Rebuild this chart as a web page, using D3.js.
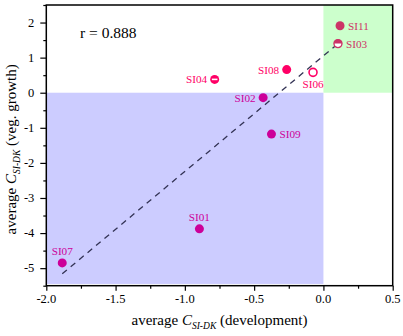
<!DOCTYPE html>
<html><head><meta charset="utf-8">
<script src="https://cdn.jsdelivr.net/npm/d3@7"></script>
<style>html,body{margin:0;padding:0;background:#fff;}svg{display:block;font-family:"Liberation Serif","Times New Roman",serif;}</style>
</head><body>
<svg id="c" width="403" height="336"></svg>
<script>
const sites = ["SI11","SI03","SI08","SI06","SI04","SI02","SI09","SI01","SI07"];
const xDev  = [0.12, 0.105, -0.265, -0.075, -0.785, -0.435, -0.375, -0.895, -1.885];
const yVeg  = [1.91, 1.40, 0.66, 0.58, 0.38, -0.14, -1.18, -3.88, -4.85];
const groups = ["g1","g1","g2","g2","g2","g3","g3","g3","g3"];
const symbols = ["full","halfUp","full","open","band","full","full","full","full"];
const labelSide = ["right","right","left","below","left","left","right","above","above"];
const fitX = [-1.885, 0.10];
const fitY = [-5.16, 1.38];
const xTicks = [-2.0,-1.5,-1.0,-0.5,0.0,0.5];
const xTickLabels = ["-2.0","-1.5","-1.0","-0.5","0.0","0.5"];
const yTicks = [-5,-4,-3,-2,-1,0,1,2];
const yTickLabels = ["-5","-4","-3","-2","-1","0","1","2"];
const rText = "r = 0.888";

const W=403,H=336, m={l:46.3,r:10.3,t:5,b:50.3};
const svg=d3.select("#c");
const x=d3.scaleLinear().domain([-2,0.5]).range([m.l,W-m.r]);
const y=d3.scaleLinear().domain([-5.5,2.5]).range([H-m.b,m.t]);
const color=d3.scaleOrdinal().domain(["g1","g2","g3"]).range(["#cc3366","#ff0066","#cc0099"]);

// shaded regions
svg.append("rect").attr("x",x(-2)).attr("y",y(0)).attr("width",x(0)-x(-2)).attr("height",y(-5.45)-y(0)).attr("fill","#ccccff");
svg.append("rect").attr("x",x(0)).attr("y",y(2.5)).attr("width",x(0.5)-x(0)).attr("height",y(0)-y(2.5)).attr("fill","#ccffcc");

// regression line
svg.append("line").attr("x1",x(fitX[0])).attr("y1",y(fitY[0])).attr("x2",x(fitX[1])).attr("y2",y(fitY[1]))
  .attr("stroke","#333355").attr("stroke-width",1.3).attr("stroke-dasharray","6,5");

// axes
const gx=svg.append("g").attr("transform",`translate(0,${H-m.b})`);
gx.call(d3.axisBottom(x).tickValues(d3.range(-2,0.51,0.25)).tickSize(3).tickFormat(""));
gx.call(g=>g.selectAll(".tick").filter(d=>Math.abs(d*2-Math.round(d*2))<1e-6).select("line").attr("y2",5));
gx.selectAll(".domain").remove();
const gx2=svg.append("g");
xTicks.forEach((v,i)=>{gx2.append("text").attr("x",x(v)).attr("y",H-m.b+17.5).attr("text-anchor","middle").attr("font-size",12.5).text(xTickLabels[i]);});

const gy=svg.append("g").attr("transform",`translate(${m.l},0)`);
gy.call(d3.axisLeft(y).tickValues(d3.range(-5.5,2.51,0.5)).tickSize(3).tickFormat(""));
gy.call(g=>g.selectAll(".tick").filter(d=>Math.abs(d-Math.round(d))<1e-6).select("line").attr("x2",-6));
gy.selectAll(".domain").remove();
yTicks.forEach((v,i)=>{svg.append("text").attr("x",m.l-12).attr("y",y(v)+4.3).attr("text-anchor","end").attr("font-size",12.5).text(yTickLabels[i]);});
svg.selectAll(".tick line").attr("stroke","#000").attr("stroke-width",1.2);

// frame
svg.append("rect").attr("x",m.l).attr("y",m.t).attr("width",W-m.l-m.r).attr("height",H-m.t-m.b)
  .attr("fill","none").attr("stroke","#000").attr("stroke-width",1.5);

// points
const r=4;
sites.forEach((s,i)=>{
  const cx=x(xDev[i]), cy=y(yVeg[i]), c=color(groups[i]);
  const sym=symbols[i];
  if(sym==="full"){
    svg.append("circle").attr("cx",cx).attr("cy",cy).attr("r",r+0.5).attr("fill",c);
  } else if(sym==="open"){
    svg.append("circle").attr("cx",cx).attr("cy",cy).attr("r",r).attr("fill","#fff").attr("stroke",c).attr("stroke-width",1.6);
  } else if(sym==="halfUp"){
    svg.append("circle").attr("cx",cx).attr("cy",cy).attr("r",r).attr("fill","#fff").attr("stroke",c).attr("stroke-width",1.4);
    svg.append("path").attr("d",`M${cx-r},${cy} A${r},${r} 0 0 1 ${cx+r},${cy} Z`).attr("fill",c);
  } else if(sym==="band"){
    svg.append("circle").attr("cx",cx).attr("cy",cy).attr("r",r+0.5).attr("fill",c);
    svg.append("line").attr("x1",cx-r+1.2).attr("x2",cx+r-1.2).attr("y1",cy).attr("y2",cy).attr("stroke","#fff").attr("stroke-width",1.6);
  }
  const t=svg.append("text").attr("font-size",11.2).attr("fill",c).text(s);
  const side=labelSide[i];
  if(side==="right") t.attr("x",cx+8).attr("y",cy+4);
  else if(side==="left") t.attr("x",cx-7.5).attr("y",cy+4).attr("text-anchor","end");
  else if(side==="below") t.attr("x",cx).attr("y",cy+16).attr("text-anchor","middle");
  else t.attr("x",cx).attr("y",cy-8).attr("text-anchor","middle");
});

// r annotation
svg.append("text").attr("x",80).attr("y",37.7).attr("font-size",15.5).text(rText);

// axis titles
const xt=svg.append("text").attr("x",(m.l+W-m.r)/2).attr("y",325).attr("text-anchor","middle").attr("font-size",15);
xt.append("tspan").text("average ");
xt.append("tspan").attr("font-style","italic").text("C");
xt.append("tspan").attr("font-style","italic").attr("font-size",9.5).attr("dy",4).text("SI-DK");
xt.append("tspan").attr("dy",-4).text(" (development)");

const yt=svg.append("text").attr("transform",`translate(16,${(m.t+H-m.b)/2+4}) rotate(-90)`).attr("text-anchor","middle").attr("font-size",15);
yt.append("tspan").text("average ");
yt.append("tspan").attr("font-style","italic").text("C");
yt.append("tspan").attr("font-style","italic").attr("font-size",9.5).attr("dy",4).text("SI-DK");
yt.append("tspan").attr("dy",-4).text(" (veg. growth)");
</script>
</body></html>
